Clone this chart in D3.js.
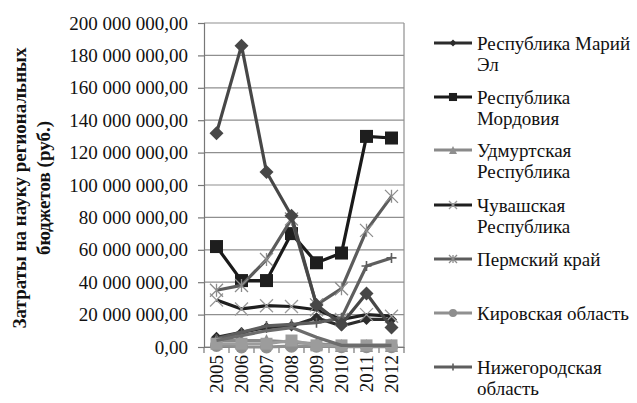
<!DOCTYPE html>
<html>
<head>
<meta charset="utf-8">
<script src="https://cdn.jsdelivr.net/npm/d3@7"></script>
<style>
  html, body { margin: 0; padding: 0; background: #ffffff; }
  svg { display: block; }
  svg text { font-family: 'Times New Roman', 'Liberation Serif', Tinos, 'Noto Serif', 'DejaVu Serif', FreeSerif, serif !important; fill: #111; }
</style>
</head>
<body>
<svg id="chart" width="637" height="403"></svg>
<script>
// Годы (категории оси X)
const years = ["2005", "2006", "2007", "2008", "2009", "2010", "2011", "2012"];

// Деления оси Y, руб.
const yTicks = [0, 20e6, 40e6, 60e6, 80e6, 100e6, 120e6, 140e6, 160e6, 180e6, 200e6];

// Затраты на науку по регионам, руб.
const mariyEl   = [6e6, 9e6, 12e6, 13e6, 18e6, 13e6, 17e6, 17e6];
const mordovia  = [62e6, 41e6, 41e6, 70e6, 52e6, 58e6, 130e6, 129e6];
const udmurtia  = [4e6, 4e6, 4e6, 3e6, 2e6, 1e6, 1e6, 1e6];
const chuvashia = [29e6, 23.5e6, 25.5e6, 25e6, 23e6, 17e6, 20e6, 19e6];
const perm      = [35e6, 38e6, 54e6, 79e6, 26e6, 36e6, 72e6, 93e6];
const kirov     = [1e6, 0, 0, 0.5e6, 0.5e6, 0.2e6, 0.2e6, 0.2e6];
const nizhny    = [5e6, 9e6, 13e6, 14e6, 15e6, 18e6, 50e6, 55e6];
const row8      = [132e6, 186e6, 108e6, 81e6, 26e6, 14e6, 33e6, 12e6];
const row9      = [2e6, 2e6, 2e6, 4e6, 1e6, 1e6, 1e6, 1e6];
const row10     = [4e6, 7e6, 10e6, 12e6, 6e6, 1e6, 1e6, 1e6];

// Подписи легенды (легенда вмещает первые семь рядов)
const legendNames = [
  ["Республика Марий", "Эл"],
  ["Республика", "Мордовия"],
  ["Удмуртская", "Республика"],
  ["Чувашская", "Республика"],
  ["Пермский край"],
  ["Кировская область"],
  ["Нижегородская", "область"]
];

const series = [
  { name: "Республика Марий Эл", values: mariyEl,   line: "#2c2c2c", mark: "#2c2c2c", shape: "diamond",  size: 11 },
  { name: "Республика Мордовия", values: mordovia,  line: "#1a1a1a", mark: "#1e1e1e", shape: "square",   size: 13 },
  { name: "Удмуртская Республика", values: udmurtia, line: "#8a8a8a", mark: "#8e8e8e", shape: "triangle", size: 13 },
  { name: "Чувашская Республика", values: chuvashia, line: "#1f1f1f", mark: "#9a9a9a", shape: "x",        size: 13 },
  { name: "Пермский край",        values: perm,      line: "#5c5c5c", mark: "#8c8c8c", shape: "star",     size: 13 },
  { name: "Кировская область",    values: kirov,     line: "#909090", mark: "#8e8e8e", shape: "circle",   size: 13 },
  { name: "Нижегородская область", values: nizhny,   line: "#5e5e5e", mark: "#5e5e5e", shape: "plus",     size: 10 },
  { name: "Ряд 8",  values: row8,  line: "#474747", mark: "#474747", shape: "diamond", size: 14 },
  { name: "Ряд 9",  values: row9,  line: "#9c9c9c", mark: "#9c9c9c", shape: "square",  size: 12 },
  { name: "Ряд 10", values: row10, line: "#6c6c6c", mark: "#6c6c6c", shape: "none",    size: 0 }
];

const svg = d3.select("#chart");
const plot = { left: 204, right: 404, top: 23, bottom: 347 };
const serif = "'Times New Roman', 'Liberation Serif', Tinos, 'Noto Serif', 'DejaVu Serif', FreeSerif, serif";

const x = d3.scaleBand().domain(years).range([plot.left, plot.right]).padding(0);
const xc = d => x(d) + x.bandwidth() / 2;
const y = d3.scaleLinear().domain([0, 200e6]).range([plot.bottom, plot.top]);

const ru = d3.formatLocale({ decimal: ",", thousands: "\u00a0", grouping: [3], currency: ["", " руб."] });
const fmt = ru.format(",.2f");

// Горизонтальная сетка
svg.append("g")
  .selectAll("line")
  .data(yTicks)
  .join("line")
  .attr("x1", plot.left).attr("x2", plot.right)
  .attr("y1", d => y(d)).attr("y2", d => y(d))
  .attr("stroke", "#8f8f8f").attr("stroke-width", 1.2);

// Правая граница области построения
svg.append("line")
  .attr("x1", plot.right).attr("x2", plot.right)
  .attr("y1", plot.top).attr("y2", plot.bottom)
  .attr("stroke", "#8f8f8f").attr("stroke-width", 1.2);

// Ось Y
const yAxis = d3.axisLeft(y).tickValues(yTicks).tickFormat(fmt).tickSize(6).tickPadding(10);
const gy = svg.append("g").attr("transform", `translate(${plot.left},0)`).call(yAxis)
  .attr("font-family", serif).attr("font-size", 19);
gy.select(".domain").attr("stroke", "#777").attr("stroke-width", 1.2);
gy.selectAll(".tick line").attr("stroke", "#777").attr("stroke-width", 1.2);
gy.selectAll(".tick text").attr("fill", "#111");

// Ось X
const xAxis = d3.axisBottom(x).tickSize(0).tickFormat("");
const gx = svg.append("g").attr("transform", `translate(0,${plot.bottom})`).call(xAxis);
gx.select(".domain").attr("stroke", "#777").attr("stroke-width", 1.2);
// засечки на границах категорий
const bounds = years.map(d => x(d)).concat([plot.right]);
svg.append("g").selectAll("line").data(bounds).join("line")
  .attr("x1", d => d).attr("x2", d => d)
  .attr("y1", plot.bottom).attr("y2", plot.bottom + 6)
  .attr("stroke", "#777").attr("stroke-width", 1.2);

svg.append("g").attr("font-family", serif).selectAll("text").data(years).join("text")
  .attr("transform", d => `translate(${xc(d)},${plot.bottom + 8}) rotate(-90)`)
  .attr("text-anchor", "end")
  .attr("dominant-baseline", "central")
  .attr("font-size", 19)
  .text(d => d);

// Заголовок оси Y
const title = svg.append("text")
  .attr("font-family", serif)
  .attr("transform", `translate(19,${(plot.top + plot.bottom) / 2 + 3}) rotate(-90)`)
  .attr("text-anchor", "middle")
  .attr("font-size", 19).attr("font-weight", "bold");
title.append("tspan").attr("x", 0).attr("dy", "0.35em").text("Затраты на  науку региональных");
title.append("tspan").attr("x", 0).attr("dy", "1.3em").text("бюджетов (руб.)");

// Маркеры
function drawMarker(g, shape, size, color) {
  const r = size / 2;
  if (shape === "diamond") {
    g.append("path").attr("d", `M0,${-r}L${r},0L0,${r}L${-r},0Z`).attr("fill", color);
  } else if (shape === "square") {
    g.append("rect").attr("x", -r).attr("y", -r).attr("width", size).attr("height", size)
      .attr("fill", color);
  } else if (shape === "triangle") {
    g.append("path").attr("d", `M0,${-r}L${r},${r}L${-r},${r}Z`).attr("fill", color);
  } else if (shape === "circle") {
    g.append("circle").attr("r", r).attr("fill", color);
  } else if (shape === "x") {
    g.append("path").attr("d", `M${-r},${-r}L${r},${r}M${-r},${r}L${r},${-r}`)
      .attr("stroke", color).attr("stroke-width", 1.3).attr("fill", "none");
  } else if (shape === "star") {
    g.append("path").attr("d", `M${-r},${-r}L${r},${r}M${-r},${r}L${r},${-r}M0,${-r}L0,${r}`)
      .attr("stroke", color).attr("stroke-width", 1.3).attr("fill", "none");
  } else if (shape === "plus") {
    g.append("path").attr("d", `M${-r},0L${r},0M0,${-r}L0,${r}`)
      .attr("stroke", color).attr("stroke-width", 1.6).attr("fill", "none");
  }
}

const line = d3.line().x((d, i) => xc(years[i])).y(d => y(d));

const layer = svg.append("g");
series.forEach(s => {
  const g = layer.append("g");
  g.append("path")
    .attr("d", line(s.values))
    .attr("fill", "none")
    .attr("stroke", s.line)
    .attr("stroke-width", 3.2)
    .attr("stroke-linejoin", "round");
  s.values.forEach((v, i) => {
    const m = g.append("g").attr("transform", `translate(${xc(years[i])},${y(v)})`);
    drawMarker(m, s.shape, s.size, s.mark);
  });
});

// Легенда
const legendY = [43, 97, 150, 205, 259, 313, 367];
const legend = svg.append("g").attr("font-family", serif);
legendNames.forEach((lines, i) => {
  const s = series[i];
  const g = legend.append("g").attr("transform", `translate(0,${legendY[i]})`);
  g.append("line").attr("x1", 434).attr("x2", 472).attr("y1", 0).attr("y2", 0)
    .attr("stroke", s.line).attr("stroke-width", 3.2);
  const m = g.append("g").attr("transform", "translate(453,0)");
  drawMarker(m, s.shape, Math.max(7, s.size * 0.62), s.mark);
  const t = g.append("text").attr("x", 477).attr("y", 0).attr("font-size", 19);
  lines.forEach((ln, j) => {
    t.append("tspan").attr("x", 477).attr("dy", j === 0 ? "0.35em" : "1.12em").text(ln);
  });
});
</script>
</body>
</html>
